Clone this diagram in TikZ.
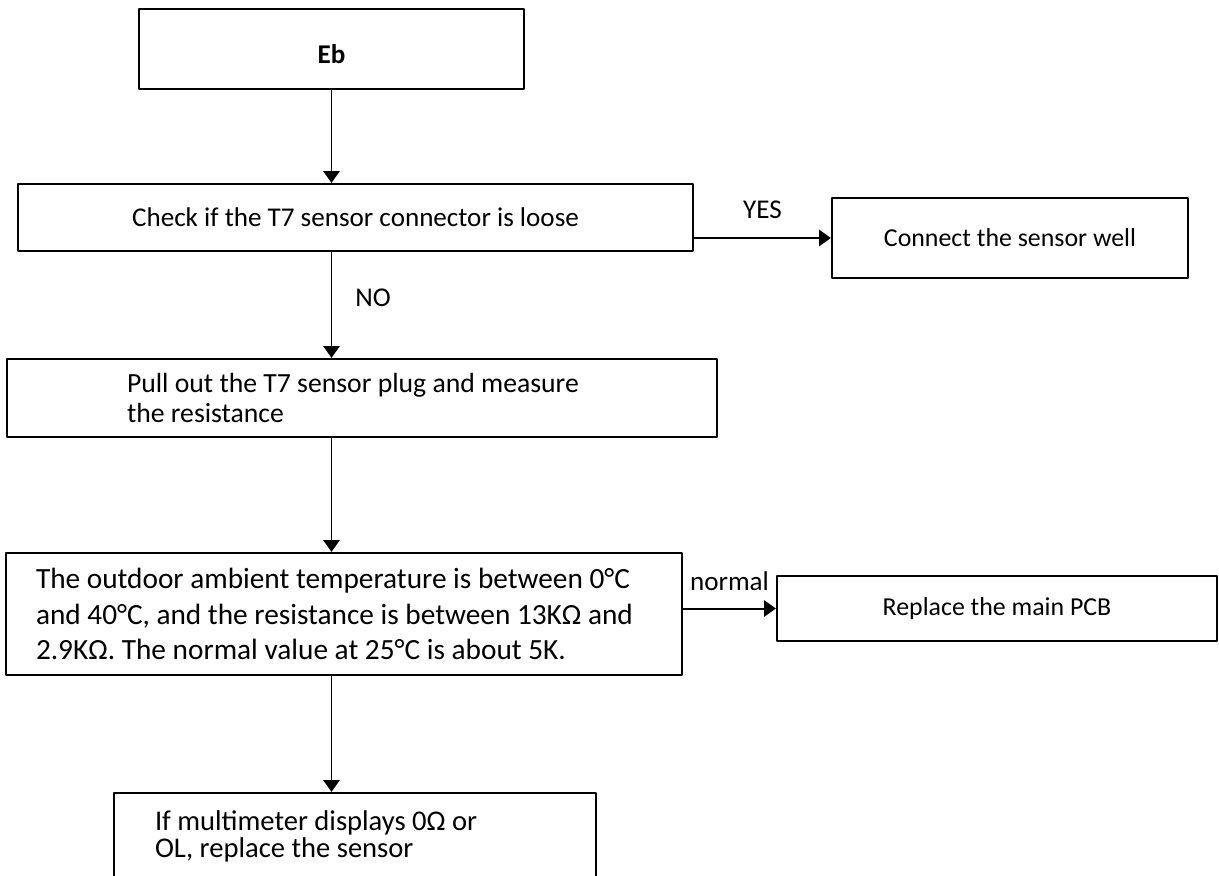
\documentclass[tikz,border=0pt]{standalone}
\usepackage{fontspec}
\setmainfont{Carlito}
\usetikzlibrary{arrows.meta}
\newlength{\pxu}
\setlength{\pxu}{0.406pt}

\begin{document}
\begin{tikzpicture}[x=0.406pt,y=-0.406pt,line join=round,>={Triangle[length=4.8pt,width=6.6pt]},
		box/.style={draw,line width=0.9pt,inner sep=0pt,font=\fontsize{11}{13.4}\selectfont},
		lbl/.style={font=\fontsize{11}{13.4}\selectfont},
		link/.style={->,line width=0.8pt}]
	\useasboundingbox (0,0) rectangle (1219,875);
	% boxes
	\node[box,minimum width=385*\pxu,minimum height=80*\pxu,text height=11.9pt,text depth=0pt] (eb) at (331.5,49) {\textbf{Eb}};
	\node[box,minimum width=675*\pxu,minimum height=67*\pxu] (check) at (355.5,217.5) {Check if the T7 sensor connector is loose};
	\node[box,minimum width=356*\pxu,minimum height=80*\pxu,font=\fontsize{10.5}{12.8}\selectfont] (connect) at (1010,238) {Connect the sensor well};
	\node[box,minimum width=710*\pxu,minimum height=78*\pxu,text width=470\pxu,align=flush left,font=\fontsize{11.25}{12.2}\selectfont] (pull) at (362,398) {Pull out the T7 sensor plug and measure\\the resistance};
	\node[box,minimum width=676*\pxu,minimum height=122*\pxu,text width=616\pxu,align=flush left,font=\fontsize{11.9}{14.4}\selectfont] (outdoor) at (344,614) {The outdoor ambient temperature is between 0°C\\and 40°C, and the resistance is between 13KΩ and\\2.9KΩ. The normal value at 25°C is about 5K.};
	\node[box,minimum width=440*\pxu,minimum height=65*\pxu,font=\fontsize{10.5}{12.8}\selectfont] (replace) at (997,608.5) {Replace the main PCB};
	\node[box,minimum width=482*\pxu,minimum height=86*\pxu,text width=400\pxu,align=flush left,font=\fontsize{11.6}{11}\selectfont] (meter) at (355,836) {If multimeter displays 0Ω or\\OL, replace the sensor};
	% arrows
	\draw[link] (eb.south) -- (eb.south |- check.north);
	\draw[link] (check.south -| eb.south) -- node[lbl,right=6pt,pos=0.43] (no) {NO} (pull.north -| eb.south);
	\draw[link] (check.east |- connect.west) -- node[lbl,above=4pt] (yes) {YES} (connect.west);
	\draw[link] (pull.south -| eb.south) -- (outdoor.north -| eb.south);
	\draw[link] (outdoor.east |- replace.west) -- node[lbl,above=3.5pt] (normal) {normal} (replace.west);
	\draw[link] (outdoor.south -| eb.south) -- (meter.north -| eb.south);
\end{tikzpicture}
\end{document}
